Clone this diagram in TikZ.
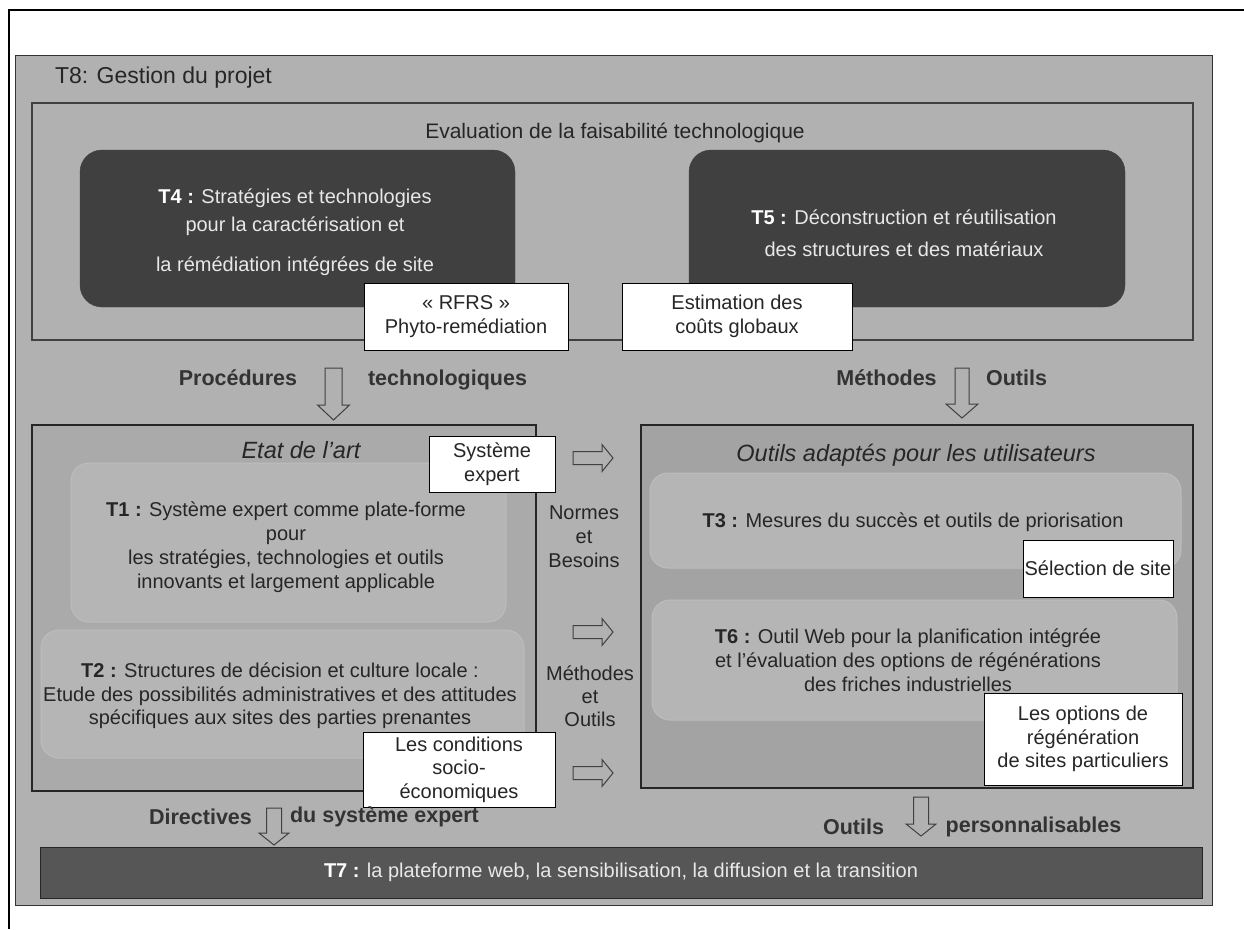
\documentclass[tikz,border=0pt]{standalone}
\usepackage{fontspec}
\setmainfont{Liberation Sans}
\definecolor{panel}{HTML}{B1B1B1}
\definecolor{darkbox}{HTML}{404040}
\definecolor{etatfill}{HTML}{AAAAAA}
\definecolor{innerfill}{HTML}{B5B5B5}
\definecolor{innerline}{HTML}{BDBDBD}
\definecolor{txt}{HTML}{262626}
\definecolor{barfill}{HTML}{565656}
\definecolor{lighttxt}{HTML}{E8E8E8}
\newcommand\hollowdown[6]{% cx, top, bottom, shaft w, head w, head len
  \draw[blockarrow] ({#1-#4/2},#2) -- ({#1+#4/2},#2) -- ({#1+#4/2},{#3-#6}) -- ({#1+#5/2},{#3-#6})
    -- (#1,#3) -- ({#1-#5/2},{#3-#6}) -- ({#1-#4/2},{#3-#6}) -- cycle;}
\newcommand\hollowright[6]{% cy, left, right, shaft h, head h, head len
  \draw[blockarrow] (#2,{#1-#4/2}) -- ({#3-#6},{#1-#4/2}) -- ({#3-#6},{#1-#5/2}) -- (#3,#1)
    -- ({#3-#6},{#1+#5/2}) -- ({#3-#6},{#1+#4/2}) -- (#2,{#1+#4/2}) -- cycle;}
\begin{document}
\begin{tikzpicture}[x=1pt,y=-1pt,
  every node/.style={inner sep=0pt, outer sep=0pt},
  txtstyle/.style={font=\fontsize{20}{23.5}\selectfont, text=txt, align=center},
  whitebox/.style={draw=black, line width=1pt, fill=white, txtstyle},
  framebox/.style={draw=black!85, line width=1.3pt, fill=etatfill},
  innerbox/.style={draw=innerline, line width=1pt, fill=innerfill, rounded corners=18pt},
  darkrbox/.style={draw=darkbox, fill=darkbox, rounded corners=22pt},
  boldlabel/.style={font=\fontsize{21.5}{24}\selectfont\bfseries, text=black!80},
  titlelabel/.style={font=\fontsize{23.5}{26}\selectfont\itshape, text=txt},
  blockarrow/.style={draw=black!75, fill=panel, line width=1pt, line join=miter}]
\useasboundingbox (0,0) rectangle (1244,929);
\fill[white] (0,0) rectangle (1244,929);
% outer frame
\draw[line width=2.6pt] (9,929) -- (9,10) -- (1244,10);
% T8 panel
\node[draw=black!80, line width=1pt, fill=panel, minimum width=1197pt, minimum height=850pt] (t8) at (613.5,480) {};
\node[anchor=base west, font=\fontsize{23}{26}\selectfont, text=txt] (t8lab) at (55,83) {T8: Gestion du projet};
% Evaluation box
\node[draw=black!75, line width=2pt, fill=panel, minimum width=1161pt, minimum height=237pt] (eval) at (612.5,221.5) {};
\node[font=\fontsize{21}{24}\selectfont, text=txt] (evaltitle) at (615,133) {Evaluation de la faisabilité technologique};
% T4 and T5
\node[darkrbox, minimum width=435pt, minimum height=157pt] (t4) at (297.5,228.5) {};
\node[font=\fontsize{20}{28}\selectfont, text=lighttxt, align=center] (t4txt) at (295,232)
  {\textbf{\color{white}T4 :} Stratégies et technologies\\pour la caractérisation et\\[12pt]la rémédiation intégrées de site};
\node[darkrbox, minimum width=436pt, minimum height=157pt] (t5) at (907,228.5) {};
\node[font=\fontsize{20}{32}\selectfont, text=lighttxt, align=center] (t5txt) at (904,233)
  {\textbf{\color{white}T5 :} Déconstruction et réutilisation\\des structures et des matériaux};
% white labels on top box
\node[whitebox, minimum width=204pt, minimum height=67pt] (rfrs) at (466,316.5) {« RFRS »\\Phyto-remédiation};
\node[whitebox, minimum width=230pt, minimum height=67pt] (cout) at (737,316.5) {Estimation des\\coûts globaux};
% arrows under top box
\node[boldlabel] (proc) at (238,378) {Procédures};
\node[boldlabel] (techno) at (447.5,380) {technologiques};
\hollowdown{333.5}{368}{420}{17}{32}{15}
\node[boldlabel] (meth) at (886.5,378) {Méthodes};
\node[boldlabel] (outl) at (1016.5,378) {Outils};
\hollowdown{962}{368}{418}{14}{32}{14}
% Etat de l'art box
\node[framebox, minimum width=504pt, minimum height=366pt] (etat) at (284,608) {};
\node[titlelabel] (etattitle) at (301,450) {Etat de l’art};
\node[innerbox, minimum width=435pt, minimum height=159pt] (t1) at (288.5,542.5) {};
\node[txtstyle, font=\fontsize{20}{24}\selectfont] (t1txt) at (286,547)
  {\textbf{T1 :} Système expert comme plate-forme\\pour\\les stratégies, technologies et outils\\innovants et largement applicable};
\node[innerbox, minimum width=483pt, minimum height=128pt] (t2) at (282.5,694) {};
\node[txtstyle] (t2txt) at (280,696)
  {\textbf{T2 :} Structures de décision et culture locale :\\Etude des possibilités administratives et des attitudes\\spécifiques aux sites des parties prenantes};
\node[whitebox, minimum width=126pt, minimum height=56pt] (sysexp) at (492,464) {Système\\expert};
% Outils adaptés box
\node[framebox, fill=etatfill!96!black, minimum width=552pt, minimum height=363pt] (outils) at (917,606.5) {};
\node[titlelabel] (outilstitle) at (916,455) {Outils adaptés pour les utilisateurs};
\node[innerbox, minimum width=531pt, minimum height=95pt] (t3) at (915.5,520.5) {};
\node[txtstyle] (t3txt) at (913,522) {\textbf{T3 :} Mesures du succès et outils de priorisation};
\node[innerbox, minimum width=525pt, minimum height=120pt] (t6) at (914.5,660) {};
\node[txtstyle, font=\fontsize{20}{24}\selectfont] (t6txt) at (908,660)
  {\textbf{T6 :} Outil Web pour la planification intégrée\\et l'évaluation des options de régénérations\\des friches industrielles};
\node[whitebox, minimum width=150pt, minimum height=57pt] (select) at (1098,568.5) {Sélection de site};
\node[whitebox, minimum width=198pt, minimum height=92pt] (options) at (1083,739) {Les options de\\régénération\\de sites particuliers};
% middle arrows
\hollowright{458}{573}{613}{13}{27}{11}
\hollowright{632}{573}{613}{13}{27}{11}
\hollowright{773}{573}{613}{13}{27}{11}
\node[txtstyle, font=\fontsize{20}{24}\selectfont] (normes) at (584,537) {Normes\\et\\Besoins};
\node[txtstyle, font=\fontsize{20}{23}\selectfont] (methout) at (590,696) {Méthodes\\et\\Outils};
\node[whitebox, minimum width=192pt, minimum height=75pt] (socio) at (459,769.5) {Les conditions\\socio-\\économiques};
% bottom arrows
\node[boldlabel] (direct) at (200.5,817) {Directives};
\node[boldlabel] (dusys) at (384.5,817) {du système expert};
\hollowdown{274}{808}{845}{15}{30}{12}
\node[boldlabel] (outp) at (853.5,827) {Outils};
\node[boldlabel] (perso) at (1033.5,827) {personnalisables};
\hollowdown{921}{797}{836}{15}{30}{12}
% T7 bar
\node[draw=black!85, line width=1pt, fill=barfill, minimum width=1162pt, minimum height=51pt] (t7) at (621,872.5) {};
\node[font=\fontsize{20}{24}\selectfont, text=lighttxt] (t7txt) at (621,872)
  {\textbf{\color{white}T7 :} la plateforme web, la sensibilisation, la diffusion et la transition};
\end{tikzpicture}
\end{document}
